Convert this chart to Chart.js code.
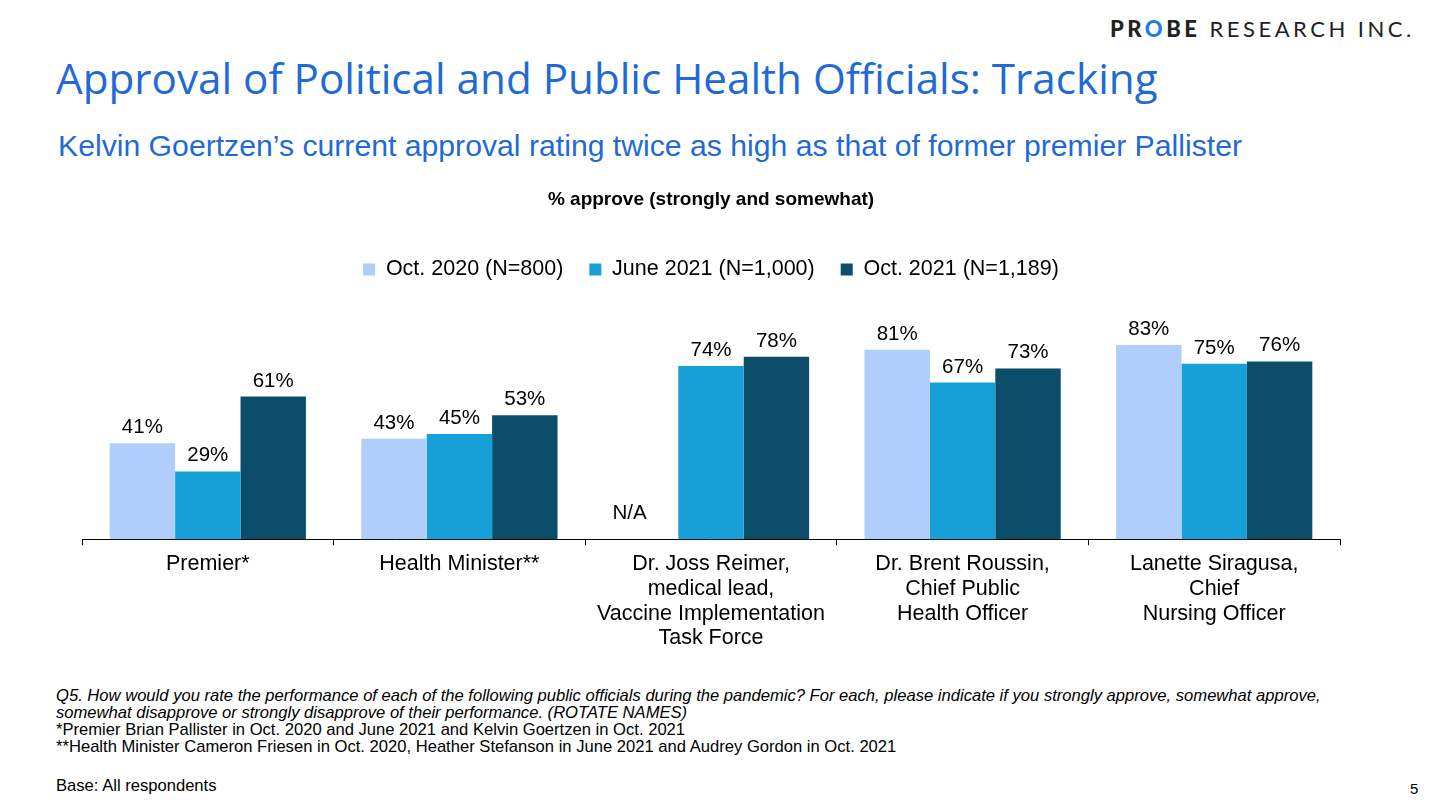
<!DOCTYPE html>
<html>
<head>
<meta charset="utf-8">
<script src="https://cdn.jsdelivr.net/npm/chart.js@4.4.0/dist/chart.umd.min.js"></script>
<style>
  body { margin: 0; width: 1444px; height: 807px; background: #fff; position: relative; overflow: hidden; font-family: "Liberation Sans", Arial, sans-serif; }
  .logo { position: absolute; left: 1110px; top: 15px; font-family: Lato, "Open Sans", sans-serif; font-size: 22px; letter-spacing: 3.5px; color: #222; }
  .logo b { font-weight: 900; }
  .logo .o { color: #1f7fe0; }
  .title { position: absolute; left: 56px; top: 49px; font-family: "Open Sans", sans-serif; font-size: 42.2px; color: #1f6ad6; white-space: nowrap; }
  .sub { position: absolute; left: 58px; top: 129px; font-size: 30.2px; color: #1f6ad6; white-space: nowrap; }
  #wrap { position: absolute; left: 0; top: 180px; width: 1444px; height: 480px; }
  .notes { position: absolute; left: 56px; top: 687px; font-size: 16.6px; line-height: 17px; color: #000; }
  .notes i { font-style: italic; }
  .base { position: absolute; left: 56px; top: 776px; font-size: 16.6px; color: #000; }
  .pg { position: absolute; left: 1410px; top: 780px; font-size: 15px; color: #000; }
</style>
</head>
<body>
<div class="logo"><b>PR<span class="o">O</span>BE</b> RESEARCH INC.</div>
<div class="title">Approval of Political and Public Health Officials: Tracking</div>
<div class="sub">Kelvin Goertzen’s current approval rating twice as high as that of former premier Pallister</div>
<div id="wrap"><canvas id="chart"></canvas></div>
<div class="notes"><i>Q5. How would you rate the performance of each of the following public officials during the pandemic? For each, please indicate if you strongly approve, somewhat approve,<br>somewhat disapprove or strongly disapprove of their performance. (ROTATE NAMES)</i><br>*Premier Brian Pallister in Oct. 2020 and June 2021 and Kelvin Goertzen in Oct. 2021<br>**Health Minister Cameron Friesen in Oct. 2020, Heather Stefanson in June 2021 and Audrey Gordon in Oct. 2021</div>
<div class="base">Base: All respondents</div>
<div class="pg">5</div>
<script>
// categories & series
const kategori = [
  "Premier*",
  "Health Minister**",
  ["Dr. Joss Reimer,", "medical lead,", "Vaccine Implementation", "Task Force"],
  ["Dr. Brent Roussin,", "Chief Public", "Health Officer"],
  ["Lanette Siragusa,", "Chief", "Nursing Officer"]
];
const oct2020 = [41, 43, null, 81, 83];
const juni2021 = [29, 45, 74, 67, 75];
const oct2021 = [61, 53, 78, 73, 76];

const namaSeri = ["Oct. 2020 (N=800)", "June 2021 (N=1,000)", "Oct. 2021 (N=1,189)"];
const warna = ["#b0cefb", "#17a0d8", "#0c4e69"];

const fontArial = "'Liberation Sans', Arial, sans-serif";

// label angka di atas batang
const labelPlugin = {
  id: "labelAtas",
  afterDatasetsDraw(chart) {
    const ctx = chart.ctx;
    ctx.save();
    ctx.font = "20.5px " + fontArial;
    ctx.fillStyle = "#000";
    ctx.textAlign = "center";
    ctx.textBaseline = "alphabetic";
    chart.data.datasets.forEach((ds, i) => {
      const meta = chart.getDatasetMeta(i);
      meta.data.forEach((bar, j) => {
        const v = ds.data[j];
        if (v === null) {
          const y0 = chart.scales.y.getPixelForValue(0);
          ctx.fillText("N/A", bar.x - 16, y0 - 20);
        } else {
          ctx.fillText(v + "%", bar.x, bar.y - 10);
        }
      });
    });
    ctx.restore();
  }
};

// jarak ekstra di bawah legenda
const legendGap = {
  id: "legendGap",
  beforeInit(chart) {
    const fitAsli = chart.legend.fit;
    chart.legend.fit = function () {
      fitAsli.bind(chart.legend)();
      this.height += 15;
    };
  }
};

new Chart(document.getElementById("chart"), {
  type: "bar",
  data: {
    labels: kategori,
    datasets: [
      { label: namaSeri[0], data: oct2020, backgroundColor: warna[0] },
      { label: namaSeri[1], data: juni2021, backgroundColor: warna[1] },
      { label: namaSeri[2], data: oct2021, backgroundColor: warna[2] }
    ]
  },
  options: {
    responsive: true,
    maintainAspectRatio: false,
    animation: false,
    datasets: { bar: { categoryPercentage: 0.78, barPercentage: 1.0 } },
    layout: { padding: { left: 82, right: 104, top: 8, bottom: 3 } },
    plugins: {
      title: {
        display: true,
        text: "% approve (strongly and somewhat)",
        color: "#000",
        font: { family: fontArial, size: 19, weight: "bold" },
        padding: { top: 0, bottom: 22 }
      },
      legend: {
        display: true,
        labels: {
          color: "#000",
          boxWidth: 12,
          boxHeight: 12,
          padding: 26,
          font: { family: fontArial, size: 21.5 }
        }
      },
      tooltip: { enabled: false }
    },
    scales: {
      x: {
        grid: { display: true, drawOnChartArea: false, drawTicks: true, tickLength: 6, color: "#000" },
        border: { display: true, color: "#000", width: 1 },
        ticks: {
          color: "#000",
          maxRotation: 0,
          autoSkip: false,
          padding: 6,
          font: { family: fontArial, size: 21.5, lineHeight: 1.16 }
        }
      },
      y: { display: false, min: 0, max: 100 }
    }
  },
  plugins: [labelPlugin, legendGap]
});
</script>
</body>
</html>
